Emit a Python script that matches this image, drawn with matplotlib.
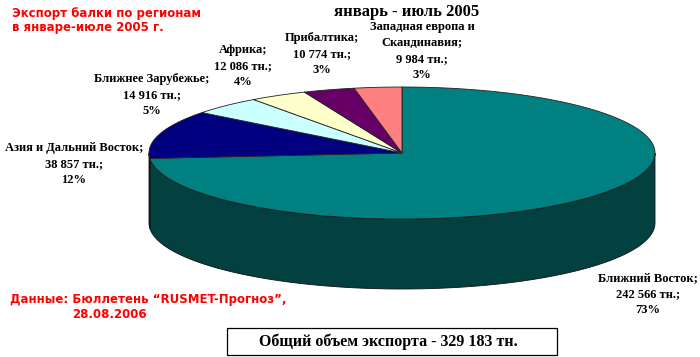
import numpy as np
import matplotlib
matplotlib.use("Agg")
import matplotlib.pyplot as plt
from matplotlib.patches import Polygon, Rectangle

# ---------------- data ----------------
regions = ["Ближний Восток", "Азия и Дальний Восток", "Ближнее Зарубежье",
           "Африка", "Прибалтика", "Западная европа и\nСкандинавия"]
values = [242566, 38857, 14916, 12086, 10774, 9984]
percents = [73, 12, 5, 4, 3, 3]
total_text = "Общий объем экспорта - 329 183 тн."
title_text = "январь - июль 2005"
red_title = "Экспорт балки по регионам\nв январе-июле 2005 г."
source_line1 = "Данные: Бюллетень \u201cRUSMET-Прогноз\u201d,"
source_line2 = "28.08.2006"

# ---------------- style ----------------
top_colors = ["#008080", "#000080", "#CCFFFF", "#FFFFCC", "#660066", "#FF8080"]
side_colors = ["#034040", "#000040", "#66A0A0", "#A0A080", "#330033", "#A05050"]
label_pos = [(648, 272), (74, 142), (152, 73), (243, 44), (322, 32), (422, 21)]

cx, cy, a, b, depth = 402, 153, 253, 66, 70

fig = plt.figure(figsize=(7.0, 3.57), dpi=100)
ax = fig.add_axes([0, 0, 1, 1])
ax.set_xlim(0, 700)
ax.set_ylim(357, 0)
ax.axis("off")

def ell(t_deg, dy=0.0):
    t = np.radians(t_deg)
    return np.column_stack([cx + a * np.cos(t), cy - b * np.sin(t) + dy])

total = float(sum(values))
starts, ends = [], []
cum = 0.0
for v in values:
    t0 = 90 - cum / total * 360
    cum += v
    t1 = 90 - cum / total * 360
    starts.append(t0)
    ends.append(t1)

# side walls (front half only)
for i in range(len(values)):
    lo = max(ends[i], -180)
    hi = min(starts[i], 0)
    if hi <= lo:
        continue
    ts = np.linspace(lo, hi, 120)
    top = ell(ts)
    bot = ell(ts[::-1], depth)
    poly = Polygon(np.vstack([top, bot]), closed=True, facecolor=side_colors[i],
                   edgecolor="#111111", linewidth=0.6, zorder=2)
    ax.add_patch(poly)

# top faces
for i in range(len(values)):
    ts = np.linspace(starts[i], ends[i], 200)
    pts = np.vstack([[cx, cy], ell(ts)])
    poly = Polygon(pts, closed=True, facecolor=top_colors[i],
                   edgecolor="#222222", linewidth=0.6, zorder=3)
    ax.add_patch(poly)

serif = "Liberation Serif"
sans = "DejaVu Sans"

# data labels
for name, v, p, (lx, ly) in zip(regions, values, percents, label_pos):
    vs = f"{v:,}".replace(",", " ")
    txt = f"{name};\n{vs} тн.;\n{p}%"
    ax.text(lx, ly, txt, ha="center", va="top",
            fontsize=9, fontweight="bold", family=serif, linespacing=1.45,
            color="black", zorder=5)

ax.text(407, 12, title_text, ha="center", va="center", fontsize=12,
        fontweight="bold", family=serif)

ax.text(12, 14, red_title.split("\n")[0], ha="left", va="center", fontsize=8.5,
        fontweight="bold", family=sans, color="#FF0000")
ax.text(12, 28, red_title.split("\n")[1], ha="left", va="center", fontsize=8.5,
        fontweight="bold", family=sans, color="#FF0000")

ax.text(10, 300, source_line1, ha="left", va="center", fontsize=8.5,
        fontweight="bold", family=sans, color="#FF0000")
ax.text(109, 315, source_line2, ha="center", va="center", fontsize=8.5,
        fontweight="bold", family=sans, color="#FF0000")

ax.add_patch(Rectangle((227, 328), 330, 27, facecolor="white",
                       edgecolor="black", linewidth=0.9, zorder=4))
ax.text(388, 342, total_text, ha="center", va="center", fontsize=11.5,
        fontweight="bold", family=serif, zorder=5)

fig.savefig("out.png", dpi=100)
